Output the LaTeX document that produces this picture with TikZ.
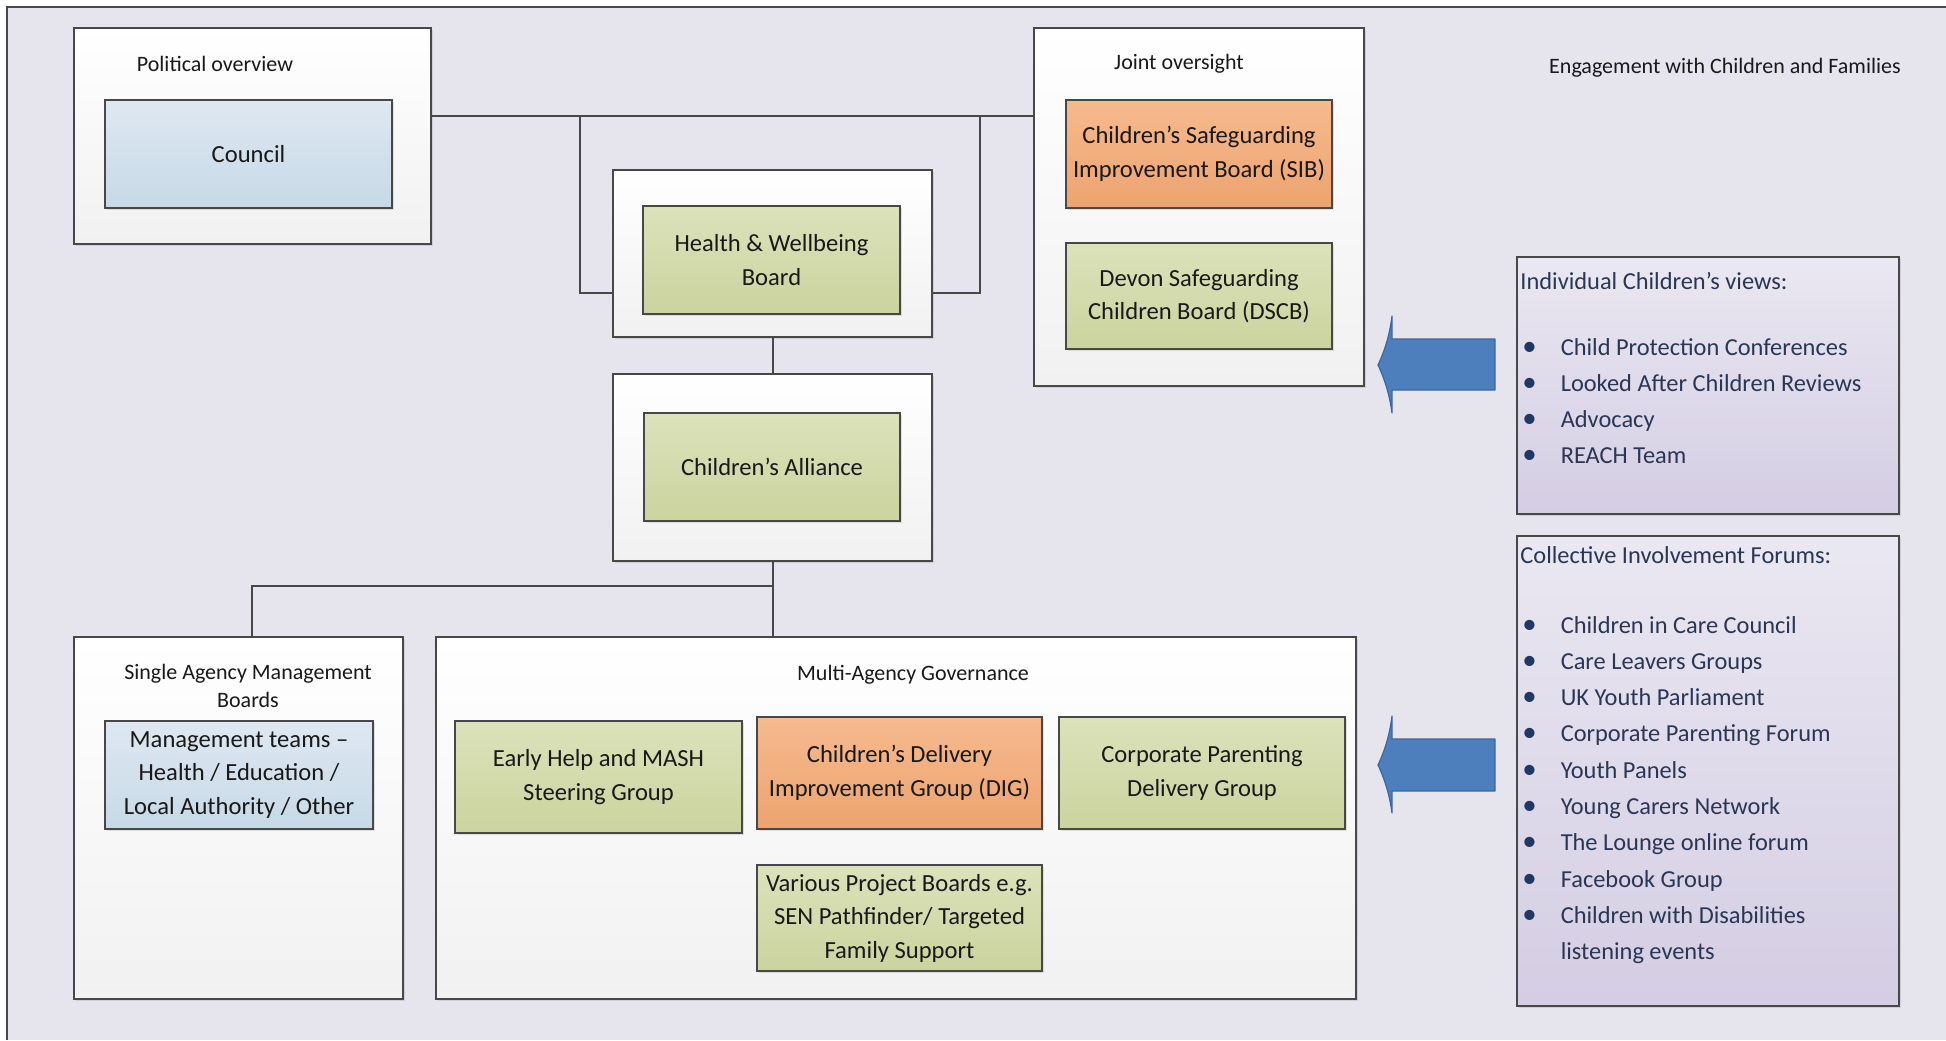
\documentclass[tikz,border=0pt]{standalone}
\usepackage{fontspec}
\setmainfont{Carlito}
\usetikzlibrary{shadows}
\definecolor{bg}{HTML}{E6E5EE}
\definecolor{bdr}{HTML}{484848}
\definecolor{outerbot}{HTML}{F1F1F1}
\definecolor{blutop}{HTML}{DEE8F2}
\definecolor{blubot}{HTML}{C7D9E6}
\definecolor{grntop}{HTML}{DCE2BA}
\definecolor{grnbot}{HTML}{CBD39F}
\definecolor{orgtop}{HTML}{F6BA8E}
\definecolor{orgbot}{HTML}{EDA36F}
\definecolor{lsttop}{HTML}{EAE8F2}
\definecolor{lstbot}{HTML}{D4CDE3}
\definecolor{lsttext}{HTML}{2A3654}
\definecolor{bulcol}{HTML}{1F3864}
\definecolor{arrfill}{HTML}{4C7FBC}
\definecolor{arrline}{HTML}{3A67A0}
\newcommand{\bul}{{\color{bulcol}\Large\textbullet}}
\begin{document}
\begin{tikzpicture}[x=0.5pt,y=-0.5pt,
  shd/.style={drop shadow={opacity=0.22, shadow xshift=1.2pt, shadow yshift=-1.2pt}},
  outerbox/.style={draw=bdr, line width=0.75pt, top color=white, bottom color=outerbot, shd, inner sep=0pt},
  boxtxt/.style={align=center, inner sep=1pt, font=\fontsize{12.3}{16.75}\selectfont, text=black!90},
  blubox/.style={draw=bdr, line width=0.75pt, top color=blutop, bottom color=blubot, shd, boxtxt},
  grnbox/.style={draw=bdr, line width=0.75pt, top color=grntop, bottom color=grnbot, shd, boxtxt},
  orgbox/.style={draw=bdr, line width=0.75pt, top color=orgtop, bottom color=orgbot, shd, boxtxt},
  listbox/.style={draw=bdr, line width=0.75pt, top color=lsttop, bottom color=lstbot, shd, inner sep=0pt},
  ttl/.style={align=center, inner sep=0pt, font=\fontsize{11}{14}\selectfont, text=black!90},
  listtxt/.style={inner sep=0pt, text=lsttext, font=\fontsize{12.2}{18.15}\selectfont},
  conn/.style={draw=bdr, line width=0.7pt},
  bigarrow/.style={fill=arrfill, draw=arrline, line width=0.6pt, line join=round}]
\useasboundingbox (0,0) rectangle (1946,1040);
\fill[white] (0,0) rectangle (1946,1040);
\fill[bg] (7,7) rectangle (1946,1040);
\draw[bdr, line width=0.75pt] (7,1040) -- (7,7) -- (1946,7);

% Political overview
\node[outerbox, minimum width=178.5pt, minimum height=108pt] (polbox) at (252.5,136) {};
\node[ttl] (poltitle) at (215,64) {Political overview};
\node[blubox, minimum width=143.5pt, minimum height=54pt] (council) at (248.5,154) {Council};

% Health & Wellbeing
\node[outerbox, minimum width=159.5pt, minimum height=83.5pt] (hwout) at (772.5,253.5) {};
\node[grnbox, minimum width=128.5pt, minimum height=54pt] (hwin) at (771.5,260) {Health \& Wellbeing\\Board};

% Children's Alliance
\node[outerbox, minimum width=159.5pt, minimum height=93.5pt] (alout) at (772.5,467.5) {};
\node[grnbox, minimum width=128pt, minimum height=54pt] (alin) at (772,467) {Children’s Alliance};

% Joint oversight
\node[outerbox, minimum width=165pt, minimum height=179pt] (joint) at (1199,207) {};
\node[ttl] (jointtitle) at (1179,64) {Joint oversight};
\node[orgbox, minimum width=133pt, minimum height=54pt] (sib) at (1199,154) {Children’s Safeguarding\\Improvement Board (SIB)};
\node[grnbox, minimum width=133pt, minimum height=53pt] (dscb) at (1199,296) {Devon Safeguarding\\Children Board (DSCB)};

% Engagement
\node[ttl] (engtitle) at (1725,68) {Engagement with Children and Families};

\node[listbox, minimum width=191pt, minimum height=128.5pt] (indiv) at (1708,385.5) {};
\node[listtxt, anchor=base west] (indivtitle) at (1520,289) {Individual Children’s views:};
\node[listtxt, anchor=base west] (indivlist) at (1522,355) {\begin{tabular}[t]{@{}l@{\hspace{12pt}}l@{}}
\bul & Child Protection Conferences\\
\bul & Looked After Children Reviews\\
\bul & Advocacy\\
\bul & REACH Team
\end{tabular}};

\node[listbox, minimum width=191pt, minimum height=235pt] (coll) at (1708,771) {};
\node[listtxt, anchor=base west] (colltitle) at (1520,563) {Collective Involvement Forums:};
\node[listtxt, anchor=base west] (colllist) at (1522,633) {\begin{tabular}[t]{@{}l@{\hspace{12pt}}l@{}}
\bul & Children in Care Council\\
\bul & Care Leavers Groups\\
\bul & UK Youth Parliament\\
\bul & Corporate Parenting Forum\\
\bul & Youth Panels\\
\bul & Young Carers Network\\
\bul & The Lounge online forum\\
\bul & Facebook Group\\
\bul & Children with Disabilities\\
     & listening events
\end{tabular}};

% Single agency
\node[outerbox, minimum width=164.5pt, minimum height=181pt] (single) at (238.5,818) {};
\node[ttl] (singletitle) at (248,686) {Single Agency Management\\Boards};
\node[blubox, minimum width=134pt, minimum height=54pt] (mgmt) at (239,775) {Management teams –\\Health / Education /\\Local Authority / Other};

% Multi agency
\node[outerbox, minimum width=460pt, minimum height=181pt] (multi) at (896,818) {};
\node[ttl] (multititle) at (913,675) {Multi-Agency Governance};
\node[grnbox, minimum width=143.5pt, minimum height=56pt] (early) at (598.5,777) {Early Help and MASH\\Steering Group};
\node[orgbox, minimum width=142.5pt, minimum height=56pt] (dig) at (899.5,773) {Children’s Delivery\\Improvement Group (DIG)};
\node[grnbox, minimum width=143pt, minimum height=56pt] (corp) at (1202,773) {Corporate Parenting\\Delivery Group};
\node[grnbox, minimum width=142.5pt, minimum height=53pt] (various) at (899.5,918) {Various Project Boards e.g.\\SEN Pathfinder/ Targeted\\Family Support};

% connectors
\coordinate (jL) at (580,116);
\coordinate (jR) at (980,116);
\coordinate (hL) at (580,293);
\coordinate (hR) at (980,293);
\coordinate (bM) at (773,586);
\coordinate (bL) at (252,586);
\draw[conn] (polbox.east |- jL) -- (joint.west |- jL);
\draw[conn] (jL) -- (hL) -- (hwout.west |- hL);
\draw[conn] (jR) -- (hR) -- (hwout.east |- hR);
\draw[conn] (hwout.south -| bM) -- (alout.north -| bM);
\draw[conn] (alout.south -| bM) -- (bM) -- (multi.north -| bM);
\draw[conn] (bM) -- (bL) -- (single.north -| bL);

% big arrows
\draw[bigarrow] (1378,365) .. controls (1386,348) and (1390,332) .. (1392,316) -- (1392,339) -- (1495,339) -- (1495,390) -- (1392,390) -- (1392,413) .. controls (1390,398) and (1386,382) .. cycle;
\draw[bigarrow] (1378,765) .. controls (1386,748) and (1390,732) .. (1392,716) -- (1392,739) -- (1495,739) -- (1495,791) -- (1392,791) -- (1392,813) .. controls (1390,798) and (1386,782) .. cycle;
\end{tikzpicture}
\end{document}
